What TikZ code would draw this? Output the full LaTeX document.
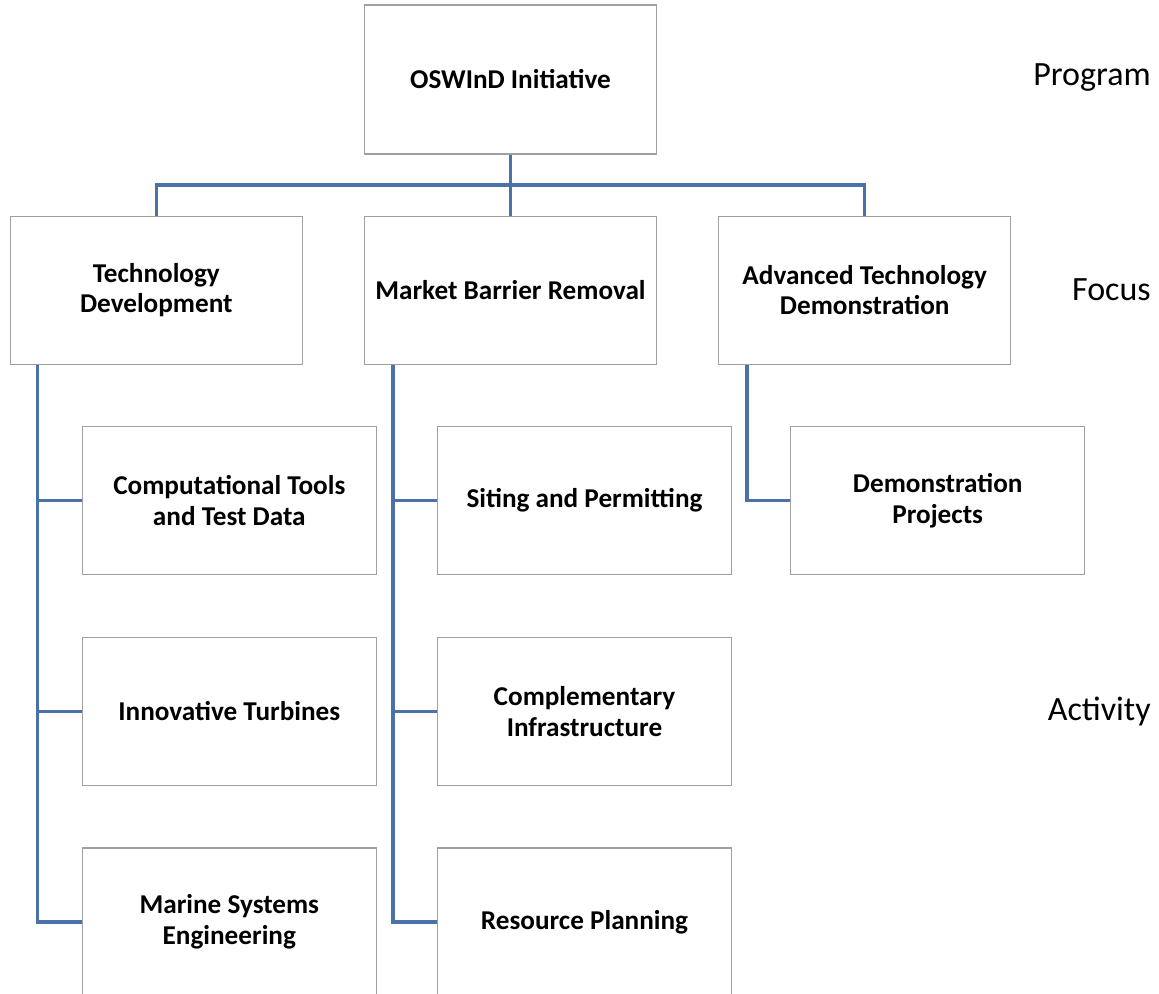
\documentclass[tikz,border=0pt]{standalone}
\usepackage{fontspec}
\setmainfont{Carlito}
\usepackage{tikz}
\usepackage{xcolor}
\usetikzlibrary{positioning}
\definecolor{trunkblue}{RGB}{74,114,168}
\definecolor{boxgray}{RGB}{160,160,160}

\begin{document}
\begin{tikzpicture}[x=0.75pt, y=-0.75pt, node distance=45.75pt]
  \tikzset{
    unitbox/.style={draw=boxgray, line width=0.9pt, fill=white, rectangle, minimum width=219pt, minimum height=111pt, inner sep=2pt, align=center, font=\bfseries\fontsize{20.4}{23}\selectfont},
    program/.style={unitbox, minimum height=111.75pt},
    focus/.style={unitbox},
    activity/.style={unitbox, minimum width=220.5pt},
    tier/.style={anchor=east, inner sep=0pt, font=\fontsize{25.5}{30}\selectfont},
    trunk/.style={draw=trunkblue, line width=2.6pt}
  }
  \useasboundingbox (0,0) rectangle (1159,993);

  \node[program] (oswind) at (510.5,79.5) {OSWInD Initiative};
  \node[focus, below=of oswind] (market) {Market Barrier Removal};
  \node[focus, left=of market] (techdev) {Technology\\Development};
  \node[focus, right=of market] (advtech) {Advanced Technology\\Demonstration};

  \node[activity, below right=45.9pt and 54pt of techdev.south west] (comptools) {Computational Tools\\and Test Data};
  \node[activity, below=46.1pt of comptools] (turbines) {Innovative Turbines};
  \node[activity, below=46.1pt of turbines] (marine) {Marine Systems\\Engineering};
  \node[activity, below right=45.9pt and 54.75pt of market.south west] (siting) {Siting and Permitting};
  \node[activity, below=46.1pt of siting] (infra) {Complementary\\Infrastructure};
  \node[activity, below=46.1pt of infra] (resource) {Resource Planning};
  \node[activity, below right=45.9pt and 54pt of advtech.south west] (demo) {Demonstration\\Projects};

  \node[tier] (lprogram) at (1151,78) {Program};
  \node[tier] (lfocus) at (lprogram.east |- advtech) {Focus};
  \node[tier] (lactivity) at (lprogram.east |- turbines) {Activity};

  \coordinate[below=22.9pt of oswind] (bus);
  \draw[trunk] (oswind) -- (market);
  \draw[trunk] (techdev.north) |- (bus) -| (advtech.north);
  \draw[trunk] ([xshift=21pt]techdev.south west) |- (comptools.west);
  \draw[trunk] ([xshift=21pt]techdev.south west) |- (turbines.west);
  \draw[trunk] ([xshift=21pt]techdev.south west) |- (marine.west);
  \draw[trunk] ([xshift=21.75pt]market.south west) |- (siting.west);
  \draw[trunk] ([xshift=21.75pt]market.south west) |- (infra.west);
  \draw[trunk] ([xshift=21.75pt]market.south west) |- (resource.west);
  \draw[trunk] ([xshift=21.75pt]advtech.south west) |- (demo.west);
\end{tikzpicture}
\end{document}
